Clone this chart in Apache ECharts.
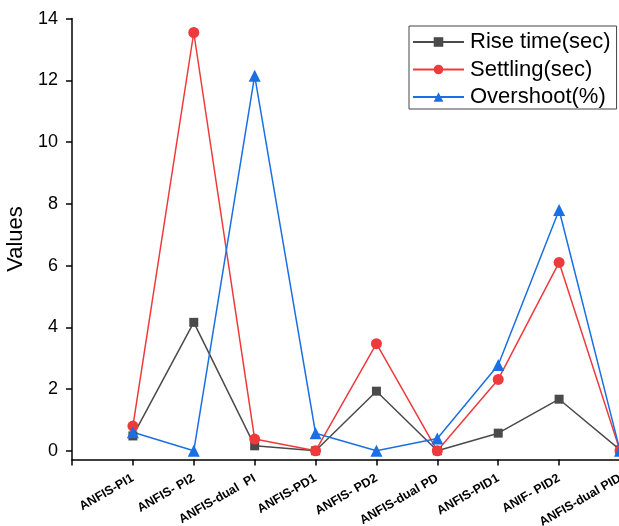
<!DOCTYPE html>
<html>
<head>
<meta charset="utf-8">
<script src="https://cdn.jsdelivr.net/npm/echarts@6/dist/echarts.min.js"></script>
<style>
  html, body { margin: 0; padding: 0; background: #fff; }
  #main { width: 619px; height: 526px; }
</style>
</head>
<body>
<div id="main"></div>
<script>
var categories = ['ANFIS-PI1', 'ANFIS- PI2', 'ANFIS-dual  PI', 'ANFIS-PD1', 'ANFIS- PD2',
  'ANFIS-dual PD', 'ANFIS-PID1', 'ANIF- PID2', 'ANFIS-dual PID'];
var riseTime = [0.48, 4.16, 0.16, 0.0, 1.93, 0.0, 0.57, 1.67, 0.03];
var settling = [0.8, 13.55, 0.38, 0.0, 3.47, 0.0, 2.31, 6.1, 0.0];
var overshoot = [0.6, 0.0, 12.15, 0.57, 0.0, 0.4, 2.78, 7.8, 0.0];
var yTicks = [0, 2, 4, 6, 8, 10, 12, 14];

var font = '"Liberation Sans", Arial, sans-serif';

function pairs(vals) {
  // x is the category position, 1-based (position 0 is the empty band at the y axis)
  return vals.map(function (v, i) { return [i + 1, v]; });
}

var chart = echarts.init(document.getElementById('main'), null, { renderer: 'canvas' });

var option = {
  backgroundColor: '#fff',
  animation: false,
  grid: {
    left: 72,
    right: -1,
    top: 18.6,
    bottom: 66.6,
    containLabel: false,
    outerBoundsMode: 'none'
  },
  legend: {
    orient: 'vertical',
    left: 409,
    top: 26,
    padding: [5, 6, 1, 3],
    itemGap: 5.5,
    itemWidth: 51,
    itemHeight: 12,
    borderColor: '#444',
    borderWidth: 1,
    textStyle: { fontFamily: font, fontSize: 22, color: '#000', lineHeight: 22, padding: [0, 0, 0, 1] },
    data: ['Rise time(sec)', 'Settling(sec)', 'Overshoot(%)']
  },
  xAxis: {
    type: 'value',
    min: 0,
    max: 9,
    interval: 1,
    splitLine: { show: false },
    axisLine: { show: true, onZero: false, lineStyle: { color: '#000', width: 1.5 } },
    axisTick: { show: true, length: 6, lineStyle: { color: '#000', width: 1.5 } },
    axisLabel: {
      rotate: 30,
      margin: 18,
      fontFamily: font,
      fontSize: 12.5,
      fontWeight: 'bold',
      color: '#000',
      showMaxLabel: true,
      hideOverlap: false,
      formatter: function (v) { return categories[v - 1] || ''; }
    }
  },
  yAxis: {
    type: 'value',
    min: -0.28,
    max: 14,
    name: 'Values',
    nameLocation: 'middle',
    nameGap: 42,
    nameTextStyle: { fontFamily: font, fontSize: 22, color: '#000' },
    splitLine: { show: false },
    axisLine: { show: true, onZero: false, lineStyle: { color: '#000', width: 1.5 } },
    axisTick: { show: true, length: 6, customValues: yTicks, lineStyle: { color: '#000', width: 1.5 } },
    axisLabel: {
      customValues: yTicks,
      margin: 14,
      fontFamily: font,
      fontSize: 18,
      color: '#000'
    }
  },
  series: [
    {
      name: 'Rise time(sec)',
      type: 'line',
      data: pairs(riseTime),
      symbol: 'rect',
      symbolSize: 9,
      color: '#4a4a4a',
      lineStyle: { width: 1.5, color: '#4a4a4a' },
      itemStyle: { color: '#4a4a4a' }
    },
    {
      name: 'Settling(sec)',
      type: 'line',
      data: pairs(settling),
      symbol: 'circle',
      symbolSize: 11,
      color: '#ee3a3c',
      lineStyle: { width: 1.5, color: '#ee3a3c' },
      itemStyle: { color: '#ee3a3c' }
    },
    {
      name: 'Overshoot(%)',
      type: 'line',
      data: pairs(overshoot),
      symbol: 'triangle',
      symbolSize: 12,
      color: '#1a6fe3',
      lineStyle: { width: 1.5, color: '#1a6fe3' },
      itemStyle: { color: '#1a6fe3' }
    }
  ]
};

chart.setOption(option);
</script>
</body>
</html>
